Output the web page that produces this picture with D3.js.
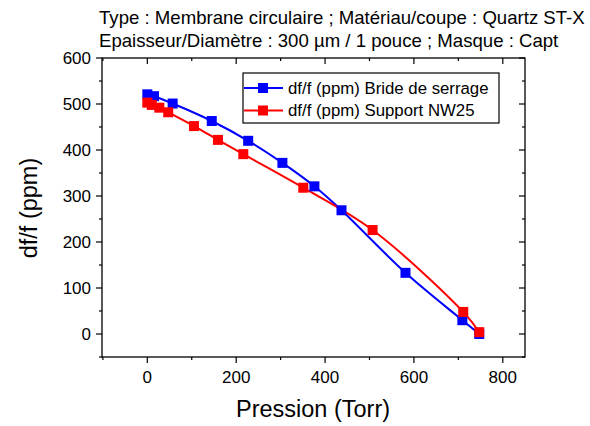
<!DOCTYPE html>
<html><head><meta charset="utf-8">
<script src="https://cdn.jsdelivr.net/npm/d3@7"></script>
<style>body{margin:0;background:#fff}svg{display:block}text{font-family:"Liberation Sans",Arial,sans-serif;fill:#000}</style>
</head><body><svg id="c" width="590" height="426"></svg>
<script>
const titleLines = ["Type : Membrane circulaire ; Matériau/coupe : Quartz ST-X",
                    "Epaisseur/Diamètre : 300 \u00b5m / 1 pouce ; Masque : Capt"];
const xLabel = "Pression (Torr)";
const yLabel = "df/f (ppm)";
const xTicks = [0, 200, 400, 600, 800];
const yTicks = [0, 100, 200, 300, 400, 500, 600];
const seriesNames = ["df/f (ppm) Bride de serrage", "df/f (ppm) Support NW25"];
const seriesColors = ["#0000ff", "#ff0000"];
const blueX = [0, 15, 57, 145, 227, 304, 376, 437, 581, 709, 747];
const blueY = [521, 517, 501, 463, 420, 372, 321, 269, 133, 30, 0];
const redX = [0, 10, 27, 47, 105, 159, 216, 351, 507, 711, 747];
const redY = [503, 498, 492, 482, 452, 422, 391, 318, 226, 48, 4];

const svg = d3.select("#c");
const L = 102, R = 525, T = 58, B = 357;
const x = d3.scaleLinear().domain([-102, 850]).range([L, R]);
const y = d3.scaleLinear().domain([-50, 600]).range([B, T]);

svg.append("g").selectAll("text").data(titleLines).join("text")
  .attr("x", 99).attr("y", (d, i) => 24 + i * 23)
  .attr("font-size", 18.6).text(d => d);

// frame
svg.append("rect").attr("x", L).attr("y", T).attr("width", R - L).attr("height", B - T)
  .attr("fill", "none").attr("stroke", "#000").attr("stroke-width", 1.3);

const xMinor = d3.range(-100, 851, 100);
const yMinor = d3.range(-50, 601, 50);
const tg = svg.append("g").attr("stroke", "#000").attr("stroke-width", 1.2);
xMinor.forEach(v => {
  const major = xTicks.includes(v);
  const len = major ? 6 : 3;
  tg.append("line").attr("x1", x(v)).attr("x2", x(v)).attr("y1", B).attr("y2", B + len);
  tg.append("line").attr("x1", x(v)).attr("x2", x(v)).attr("y1", T).attr("y2", T + len);
});
yMinor.forEach(v => {
  const major = yTicks.includes(v);
  const len = major ? 6 : 3;
  tg.append("line").attr("y1", y(v)).attr("y2", y(v)).attr("x1", L).attr("x2", L - len);
  tg.append("line").attr("y1", y(v)).attr("y2", y(v)).attr("x1", R).attr("x2", R - len);
});
svg.append("g").selectAll("text").data(xTicks).join("text")
  .attr("x", d => x(d)).attr("y", B + 26).attr("text-anchor", "middle")
  .attr("font-size", 17).text(d => d);
svg.append("g").selectAll("text").data(yTicks).join("text")
  .attr("x", L - 11).attr("y", d => y(d) + 6).attr("text-anchor", "end")
  .attr("font-size", 17).text(d => d);

svg.append("text").attr("x", 313).attr("y", 417).attr("text-anchor", "middle")
  .attr("font-size", 23.5).text(xLabel);
svg.append("text").attr("transform", `translate(37,208) rotate(-90)`)
  .attr("text-anchor", "middle").attr("font-size", 23.5).text(yLabel);

const series = [
  {xs: blueX, ys: blueY, c: seriesColors[0]},
  {xs: redX, ys: redY, c: seriesColors[1]}
];
const line = d3.line().x(d => x(d[0])).y(d => y(d[1])).curve(d3.curveCatmullRom.alpha(0.5));
series.forEach(s => {
  const pts = s.xs.map((v, i) => [v, s.ys[i]]);
  svg.append("path").attr("d", line(pts)).attr("fill", "none")
    .attr("stroke", s.c).attr("stroke-width", 2);
});
series.forEach(s => {
  const pts = s.xs.map((v, i) => [v, s.ys[i]]);
  svg.append("g").selectAll("rect").data(pts).join("rect")
    .attr("x", d => x(d[0]) - 5).attr("y", d => y(d[1]) - 5)
    .attr("width", 10).attr("height", 10).attr("fill", s.c);
});

// legend
const lg = svg.append("g");
lg.append("rect").attr("x", 243).attr("y", 73).attr("width", 256).attr("height", 50)
  .attr("fill", "#fff").attr("stroke", "#000").attr("stroke-width", 1.2);
seriesNames.forEach((n, i) => {
  const yy = 88 + i * 22.5;
  lg.append("line").attr("x1", 244).attr("x2", 283).attr("y1", yy).attr("y2", yy)
    .attr("stroke", seriesColors[i]).attr("stroke-width", 2);
  lg.append("rect").attr("x", 258).attr("y", yy - 5).attr("width", 10).attr("height", 10)
    .attr("fill", seriesColors[i]);
  lg.append("text").attr("x", 288).attr("y", yy + 5.5).attr("font-size", 16.8).text(n);
});
</script></body></html>
